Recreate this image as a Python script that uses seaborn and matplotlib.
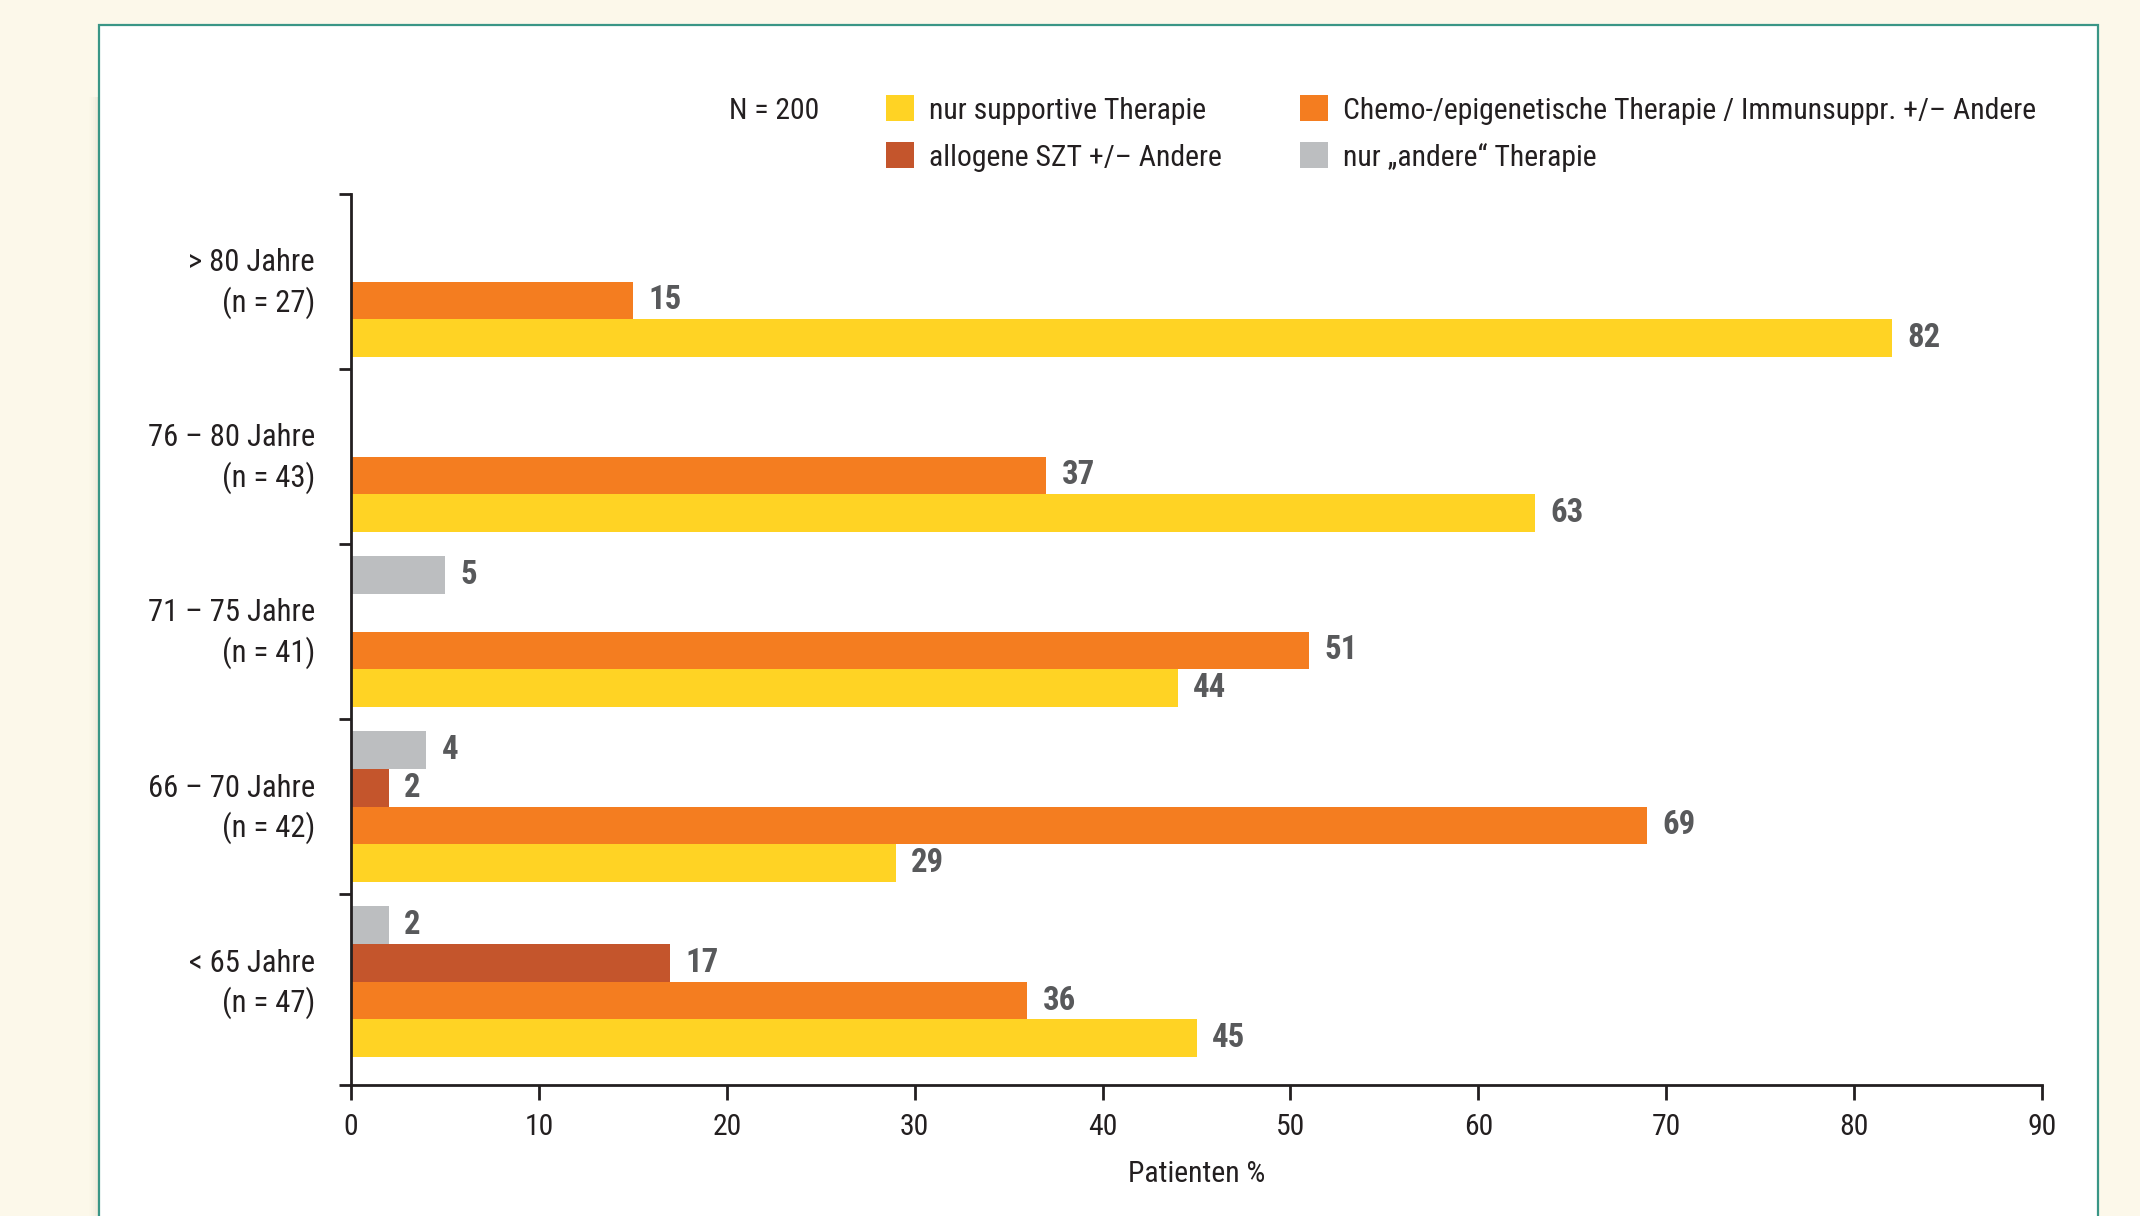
import matplotlib
matplotlib.use("Agg")
import matplotlib.pyplot as plt
import matplotlib.font_manager as fm
import matplotlib.transforms as mtransforms
from matplotlib.patches import Rectangle, Patch
import seaborn as sns
import pandas as pd

# ---- data ----
groups = ["> 80 Jahre\n(n = 27)", "76 – 80 Jahre\n(n = 43)", "71 – 75 Jahre\n(n = 41)",
          "66 – 70 Jahre\n(n = 42)", "< 65 Jahre\n(n = 47)"]
series_names = ["nur supportive Therapie",
                "Chemo-/epigenetische Therapie / Immunsuppr. +/– Andere",
                "allogene SZT +/– Andere",
                "nur „andere“ Therapie"]
supportive = [82, 63, 44, 29, 45]
chemo = [15, 37, 51, 69, 36]
allo = [0, 0, 0, 2, 17]
andere = [0, 0, 5, 4, 2]
colors = ["#FFD324", "#F47D20", "#C4552C", "#BCBEC0"]
x_ticks = [0, 10, 20, 30, 40, 50, 60, 70, 80, 90]
n_text = "N = 200"
x_label = "Patienten %"

rows = []
for name, vals in zip(series_names, [supportive, chemo, allo, andere]):
    for g, v in zip(groups, vals):
        rows.append({"group": g, "therapy": name, "value": v})
df = pd.DataFrame(rows)

sns.set_theme(style="white")

# ---- pick a narrow font if one is installed ----
def _stretch_val(s):
    m = {"ultra-condensed": 100, "extra-condensed": 200, "condensed": 300,
         "semi-condensed": 400, "normal": 500}
    if isinstance(s, str):
        return m.get(s, 500)
    return s

chosen_family, chosen_stretch = "Liberation Sans", "normal"
names = {f.name for f in fm.fontManager.ttflist}
found = False
for nm in ["Liberation Sans Narrow", "Roboto Condensed", "Open Sans Condensed",
           "Noto Sans Condensed", "DejaVu Sans Condensed", "Arial Narrow"]:
    if nm in names:
        chosen_family, found = nm, True
        break
if not found:
    best = None
    for fam in ["Roboto", "Noto Sans", "Open Sans", "Liberation Sans", "DejaVu Sans"]:
        sv = [(_stretch_val(f.stretch), f) for f in fm.fontManager.ttflist
              if f.name == fam and _stretch_val(f.stretch) <= 300]
        if sv:
            best = (fam, min(sv, key=lambda t: t[0])[0])
            break
    if best:
        chosen_family, chosen_stretch = best[0], best[1]

plt.rcParams["font.family"] = [chosen_family, "DejaVu Sans"]
plt.rcParams["font.stretch"] = chosen_stretch
TXT = "#231F20"

fig = plt.figure(figsize=(21.4, 12.16), dpi=100)
fig.patch.set_facecolor("#FCF8EA")

# font size chosen so that the long legend label fits the reference width (697 px)
renderer = fig.canvas.get_renderer()
_t = fig.text(0, 0, series_names[1], fontsize=23, family=[chosen_family, "DejaVu Sans"],
              stretch=chosen_stretch)
_w = _t.get_window_extent(renderer).width
_t.remove()
FS = min(23.0, 23.0 * 697.0 / _w)

# panel shadow + panel
for i, a in enumerate([0.045, 0.03, 0.02, 0.012, 0.006]):
    fig.patches.append(Rectangle((99 / 2140 - (i + 1) * 2.0 / 2140, -0.02), 1999 / 2140,
                                 0.94, transform=fig.transFigure, facecolor="#8a7f60",
                                 alpha=a, edgecolor="none", zorder=0))
fig.patches.append(Rectangle((99 / 2140, -0.02), 1999 / 2140, 1 - 25 / 1216 + 0.02,
                             transform=fig.transFigure, facecolor="white",
                             edgecolor="#3A9686", linewidth=1.6, zorder=1))

ax = fig.add_axes([351 / 2140, 1 - 1085 / 1216, (2042 - 351) / 2140, (1085 - 194) / 1216])
ax.set_facecolor("none")
ax.set_zorder(2)

hue_draw = series_names[::-1]
pal = dict(zip(series_names, colors))
sns.barplot(data=df, y="group", x="value", hue="therapy", hue_order=hue_draw,
            order=groups, palette=pal, orient="h", width=0.86, gap=0,
            saturation=1, linewidth=0, ax=ax, legend=False)

for cont in ax.containers:
    vals = [r.get_width() for r in cont]
    labels = ["" if v == 0 else f"{v:g}" for v in vals]
    ax.bar_label(cont, labels=labels, padding=11, fontsize=FS * 1.1, fontweight="bold",
                 color="#58595B")

ax.set_xlim(0, 90)
ax.set_ylim(4.59, -0.5)
ax.set_xticks(x_ticks)
ax.set_xticklabels([str(t) for t in x_ticks], fontsize=FS, color=TXT)
ax.set_yticks(range(len(groups)))
ax.set_yticklabels(groups, fontsize=FS * 1.03, color=TXT, linespacing=1.35)
ax.set_yticks([-0.5, 0.5, 1.5, 2.5, 3.5, 4.59], minor=True)
ax.tick_params(axis="y", which="major", length=0, pad=26)
ax.tick_params(axis="y", which="minor", length=9, width=2, color=TXT, left=True)
ax.tick_params(axis="x", which="major", length=11, width=2, color=TXT, bottom=True, pad=9)
ax.set_xlabel(x_label, fontsize=FS, color=TXT, labelpad=14)
ax.set_ylabel("")
for s in ["top", "right"]:
    ax.spines[s].set_visible(False)
for s in ["left", "bottom"]:
    ax.spines[s].set_color(TXT)
    ax.spines[s].set_linewidth(2)

# nudge the two-line group labels up slightly
shift = mtransforms.ScaledTranslation(0, 4.3 / 72, fig.dpi_scale_trans)
for lab in ax.get_yticklabels():
    lab.set_transform(lab.get_transform() + shift)

# legend
handles = [Patch(facecolor=c, edgecolor="none") for c in colors]
order = [0, 2, 1, 3]
leg = ax.legend([handles[i] for i in order], [series_names[i] for i in order], ncol=2,
                loc="upper left", bbox_to_anchor=(886 / 2140, 1 - 95.5 / 1216),
                bbox_transform=fig.transFigure, frameon=False, borderaxespad=0,
                borderpad=0, fontsize=FS, handlelength=0.95, handleheight=0.95,
                handletextpad=0.5, columnspacing=2.6, labelspacing=0.6)
for t in leg.get_texts():
    t.set_color(TXT)
fig.text(729 / 2140, 1 - 111 / 1216, n_text, fontsize=FS, color=TXT, ha="left", va="center")

fig.savefig("out.png", dpi=100, facecolor=fig.get_facecolor())
